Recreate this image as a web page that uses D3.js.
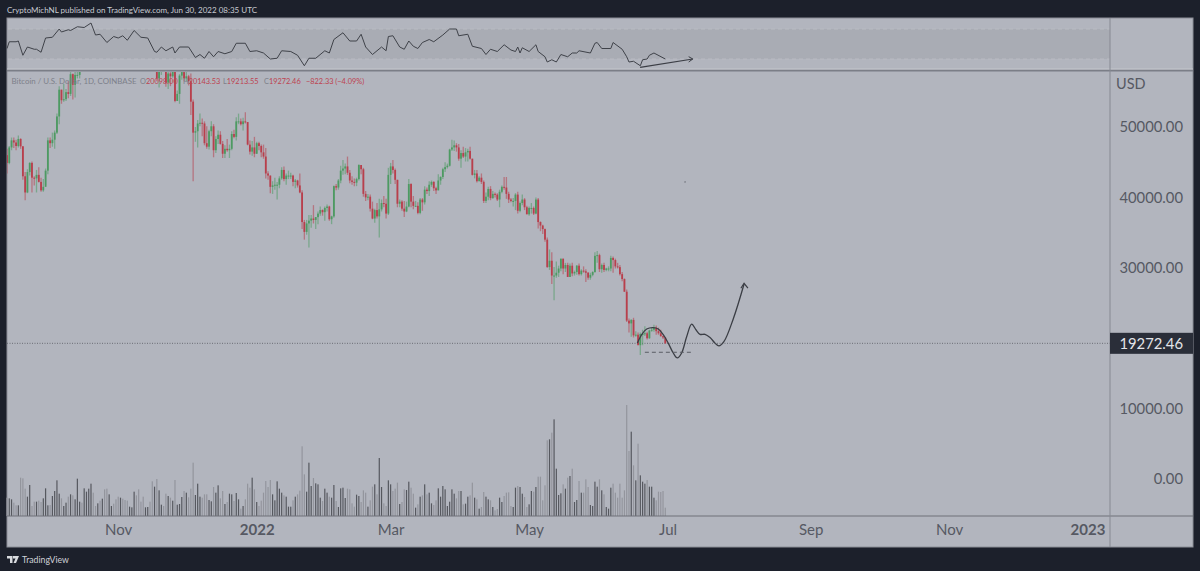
<!DOCTYPE html>
<html>
<head>
<meta charset="utf-8">
<script src="https://cdn.jsdelivr.net/npm/d3@7"></script>
<style>
html, body { margin: 0; padding: 0; background: #1c202b; overflow: hidden; }
text { font-family: Lato, "Open Sans", sans-serif; }
</style>
</head>
<body>
<div id="container_div"></div>
<script>
//Dataset, one entry a day from Sep 13 2021, prices in thousands of USD
var opens = [46.0,44.9,47.1,48.1,47.8,47.3,48.3,47.25,43.0,40.7,43.6,44.9,42.8,42.7,43.2,42.2,41.0,41.5,
  43.8,48.1,47.7,48.2,49.2,51.5,55.3,53.8,53.95,54.95,54.7,57.5,56.0,57.4,57.4,61.7,60.9,61.5,62.0,64.3,66.0,62.2,60.7,61.3,60.9,63.1,60.3,58.5,60.6,62.3,61.9,
  61.3,61.0,63.2,62.9,61.4,61.0,61.5,63.3,67.5,66.9,64.9,64.8,64.1,64.4,65.5,63.6,60.1,60.4,56.9,58.1,59.7,58.7,56.3,57.6,57.2,58.9,53.7,54.7,57.3,57.8,
  56.9,57.2,56.5,53.6,49.2,49.4,50.5,50.6,50.5,47.7,47.2,49.4,50.1,46.7,48.3,48.9,47.6,46.2,46.9,46.7,46.9,49.0,48.6,50.8,50.8,50.4,50.8,50.7,47.5,46.5,47.1,
  46.2,47.7,47.3,46.4,45.8,43.4,43.1,41.5,41.7,41.8,41.8,42.7,43.9,42.6,43.1,43.1,43.1,42.2,42.4,41.7,40.7,36.5,35.1,36.3,36.7,37.0,36.8,37.2,37.7,38.2,37.9,
  38.5,38.7,36.9,37.3,41.6,41.4,42.4,43.8,44.1,44.4,43.5,42.4,42.2,42.1,42.6,44.6,44.0,40.5,40.0,40.1,38.4,37.0,38.2,37.3,38.3,39.2,39.1,37.7,
  43.2,44.4,43.9,42.5,39.1,39.4,38.4,38.0,38.7,41.9,39.4,38.8,38.8,37.8,39.7,39.3,41.1,40.9,41.8,42.2,41.3,41.0,42.4,42.9,44.0,44.3,44.5,46.8,47.1,47.4,47.1,
  45.5,46.3,45.8,46.4,46.6,45.5,43.2,43.4,42.3,42.8,42.2,39.5,40.1,41.2,39.9,40.5,40.4,39.7,40.8,41.5,41.4,40.5,39.7,39.5,39.5,40.4,38.1,39.2,39.7,38.6,
  37.6,38.5,38.5,37.7,39.7,36.5,36.0,35.5,34.0,30.1,31.0,28.9,28.9,29.3,29.9,31.3,29.9,30.4,28.7,30.3,29.2,29.4,30.3,29.1,29.6,29.5,29.3,28.6,29.0,29.4,31.7,
  31.8,29.8,30.4,29.7,29.9,29.9,31.4,31.1,30.2,30.1,29.1,28.4,26.6,22.5,22.1,22.6,20.4,20.5,19.0,20.6,20.6,20.7,20.0,21.1,21.2,21.5,21.0,20.7,20.3,20.1];

var closes = [44.9,47.1,48.1,47.8,47.3,48.3,47.25,43.0,40.7,43.6,44.9,42.8,42.7,43.2,42.2,41.0,41.5,43.8,
  48.1,47.7,48.2,49.2,51.5,55.3,53.8,53.95,54.95,54.7,57.5,56.0,57.4,57.4,61.7,60.9,61.5,62.0,64.3,66.0,62.2,60.7,61.3,60.9,63.1,60.3,58.5,60.6,62.3,61.9,61.3,
  61.0,63.2,62.9,61.4,61.0,61.5,63.3,67.5,66.9,64.9,64.8,64.1,64.4,65.5,63.6,60.1,60.4,56.9,58.1,59.7,58.7,56.3,57.6,57.2,58.9,53.7,54.7,57.3,57.8,56.9,
  57.2,56.5,53.6,49.2,49.4,50.5,50.6,50.5,47.7,47.2,49.4,50.1,46.7,48.3,48.9,47.6,46.2,46.9,46.7,46.9,49.0,48.6,50.8,50.8,50.4,50.8,50.7,47.5,46.5,47.1,46.2,
  47.7,47.3,46.4,45.8,43.4,43.1,41.5,41.7,41.8,41.8,42.7,43.9,42.6,43.1,43.1,43.1,42.2,42.4,41.7,40.7,36.5,35.1,36.3,36.7,37.0,36.8,37.2,37.7,38.2,37.9,38.5,
  38.7,36.9,37.3,41.6,41.4,42.4,43.8,44.1,44.4,43.5,42.4,42.2,42.1,42.6,44.6,44.0,40.5,40.0,40.1,38.4,37.0,38.2,37.3,38.3,39.2,39.1,37.7,43.2,
  44.4,43.9,42.5,39.1,39.4,38.4,38.0,38.7,41.9,39.4,38.8,38.8,37.8,39.7,39.3,41.1,40.9,41.8,42.2,41.3,41.0,42.4,42.9,44.0,44.3,44.5,46.8,47.1,47.4,47.1,45.5,
  46.3,45.8,46.4,46.6,45.5,43.2,43.4,42.3,42.8,42.2,39.5,40.1,41.2,39.9,40.5,40.4,39.7,40.8,41.5,41.4,40.5,39.7,39.5,39.5,40.4,38.1,39.2,39.7,38.6,37.6,
  38.5,38.5,37.7,39.7,36.5,36.0,35.5,34.0,30.1,31.0,28.9,28.9,29.3,29.9,31.3,29.9,30.4,28.7,30.3,29.2,29.4,30.3,29.1,29.6,29.5,29.3,28.6,29.0,29.4,31.7,31.8,
  29.8,30.4,29.7,29.9,29.9,31.4,31.1,30.2,30.1,29.1,28.4,26.6,22.5,22.1,22.6,20.4,20.5,19.0,20.6,20.6,20.7,20.0,21.1,21.2,21.5,21.0,20.7,20.3,20.1,19.27];

var highs = [46.9,47.3,48.5,48.5,48.2,48.8,48.4,47.3,43.6,44.0,45.0,45.1,43.0,43.9,44.3,42.8,42.6,44.1,
  48.5,48.5,49.2,49.5,51.9,55.8,55.3,56.1,55.4,56.5,57.8,57.6,58.0,58.5,62.9,62.4,61.7,62.7,64.5,67.0,66.6,63.7,61.7,61.5,63.7,63.3,61.4,62.4,62.9,62.4,62.4,
  62.4,64.3,64.0,63.1,62.6,61.6,63.3,67.8,68.9,69.0,65.6,65.4,65.0,65.6,66.3,63.4,60.8,60.9,58.4,59.9,60.0,59.3,57.9,57.8,59.4,59.0,55.2,57.5,58.9,59.2,
  59.0,57.4,57.6,53.9,50.0,51.0,51.9,51.2,50.8,50.1,49.6,50.8,50.4,48.7,49.5,49.4,48.0,47.4,48.3,47.5,49.4,49.6,51.4,51.9,51.2,51.3,52.1,50.7,48.1,48.0,48.6,
  47.9,47.9,47.5,47.5,47.0,43.7,43.1,42.3,42.8,42.2,43.0,44.3,44.4,43.4,43.8,43.5,43.2,42.6,42.5,43.4,41.0,36.8,36.8,37.5,37.5,38.9,37.2,38.0,38.7,38.3,38.7,
  39.0,38.8,37.4,41.7,41.9,42.6,44.5,45.3,44.8,45.8,43.9,43.0,42.7,42.8,44.7,44.6,44.2,40.9,40.5,40.4,39.4,38.4,39.2,39.8,39.7,40.2,39.8,44.2,
  44.9,45.3,44.1,42.5,39.7,39.6,39.5,39.4,42.6,42.0,40.2,39.5,39.3,39.9,39.9,41.6,41.4,42.3,42.4,42.3,41.5,43.3,43.0,44.2,45.0,44.8,46.9,48.2,48.1,47.7,47.6,
  46.7,47.2,47.0,46.9,47.2,45.5,43.9,43.9,43.0,43.4,42.4,40.7,41.5,41.6,40.9,40.7,40.6,41.1,41.7,42.9,42.9,40.8,39.9,39.9,40.6,40.8,39.4,40.4,39.9,38.8,
  38.7,39.2,38.7,40.0,39.9,36.6,36.1,35.6,34.3,32.6,32.2,30.1,30.9,30.3,31.3,31.3,30.7,30.7,30.6,30.7,29.6,30.4,30.6,29.8,30.2,29.8,29.4,29.3,29.5,32.2,32.4,
  32.0,30.6,30.7,30.0,30.2,31.7,31.6,31.3,30.7,30.4,29.4,28.5,26.9,22.8,22.7,22.9,21.0,20.8,20.8,21.2,21.7,20.9,21.2,21.5,21.9,21.8,21.5,21.2,20.4,20.14];

var lows = [43.4,44.7,46.7,47.0,46.7,47.1,46.9,42.5,39.6,40.6,43.1,40.7,41.7,40.7,42.1,40.8,40.8,41.7,
  43.3,47.0,47.2,46.9,49.0,50.4,53.3,53.6,53.7,54.1,54.4,53.9,54.2,56.9,56.9,60.0,58.9,59.9,61.3,63.5,62.0,60.0,59.7,59.6,60.7,59.8,58.1,57.9,60.3,60.7,59.9,
  59.5,60.1,60.7,60.7,60.8,60.1,61.4,63.2,66.3,62.8,64.2,62.3,63.7,63.6,63.3,58.6,58.4,56.5,55.6,57.4,58.5,55.7,55.4,55.8,57.0,53.5,53.7,53.3,56.7,56.5,
  56.5,55.9,51.7,42.3,47.9,47.1,50.1,48.7,47.4,46.9,46.8,48.7,45.7,46.3,47.6,47.5,45.6,45.6,46.5,45.6,46.7,48.4,48.1,50.4,50.2,49.5,50.5,47.4,46.1,45.9,45.7,
  46.2,46.7,45.7,45.5,42.7,42.5,40.6,40.5,41.1,39.7,41.3,42.5,42.3,41.8,42.6,42.6,41.6,41.3,41.4,40.6,35.5,34.0,34.7,32.9,35.7,36.3,35.5,36.2,37.4,37.4,36.7,
  38.0,36.7,36.2,37.1,41.0,41.1,42.0,43.2,43.3,43.2,42.0,41.8,41.6,41.6,42.4,43.3,40.1,39.5,39.6,38.0,36.9,36.4,37.0,34.3,38.0,38.6,37.0,37.5,
  41.9,43.4,41.9,38.6,38.6,38.1,37.2,37.9,38.6,38.6,38.3,38.7,37.6,37.6,38.1,39.0,40.5,40.2,41.5,40.9,40.5,41.0,41.8,42.6,43.6,44.1,44.4,46.6,46.6,46.5,45.2,
  44.2,45.6,45.1,45.1,45.4,43.1,42.7,42.1,42.3,41.9,39.2,39.2,39.6,39.6,39.8,40.0,39.5,38.6,40.6,41.1,39.8,39.2,39.3,38.7,38.2,37.7,37.9,38.9,38.2,37.6,
  37.4,37.7,37.5,37.6,35.6,35.2,34.8,33.7,30.0,29.7,27.7,25.4,28.6,28.7,29.5,29.1,29.4,28.7,28.7,28.8,28.9,29.0,28.9,28.9,29.3,28.0,28.3,28.3,28.8,29.3,30.7,
  29.4,29.3,29.4,29.5,29.5,29.5,29.3,29.9,29.9,28.9,28.1,26.6,22.3,20.8,20.2,20.1,20.2,20.2,17.6,19.0,20.3,19.8,19.9,20.9,20.9,20.5,20.5,20.2,19.9,19.21];

var volumes = [55,53,50,40,32,32,115,113,82,58,93,30,43,43,46,42,53,83,32,33,
  60,75,107,67,53,30,40,58,65,62,50,112,43,40,83,73,82,97,70,30,
  38,46,52,80,82,65,30,37,50,58,55,52,48,46,28,26,73,62,80,43,
  58,26,27,43,104,88,111,77,34,30,67,60,55,46,108,34,36,57,75,70,
  56,82,160,63,97,58,55,65,65,48,44,87,70,92,53,75,36,42,67,65,
  45,69,50,22,30,50,97,85,115,80,42,30,46,70,105,87,108,65,47,104,
  82,70,62,58,28,28,47,58,65,76,209,125,73,160,90,114,98,95,55,45,
  82,70,58,55,93,45,27,83,85,54,82,80,38,28,64,60,42,77,70,28,
  47,88,95,65,174,87,38,30,107,95,75,82,100,36,42,80,78,103,85,67,
  25,35,58,62,95,65,70,38,33,47,83,58,90,80,30,43,80,67,53,75,
  75,35,37,58,62,100,55,50,22,27,72,58,50,47,27,17,21,55,42,60,
  70,71,30,27,85,90,87,67,57,27,35,75,73,87,118,118,47,92,227,230,
  250,290,142,63,68,95,82,115,120,142,42,48,105,70,70,110,87,33,30,103,
  88,110,77,65,27,22,85,97,70,55,97,55,77,333,195,253,152,107,217,122,
  103,97,108,88,88,55,47,73,72,75,25];

var rsiDays = [0,1,4,5,7,9,12,13,15,17,20,23,24,27,28,31,34,37,39,41,44,47,49,51,53,56,59,62,65,66,68,70,73,74,76,80,83,85,87,89,91,93,96,99,101,105,107,110,113,116,119,121,125,128,131,133,136,140,142,144,148,151,154,156,158,161,163,165,167,168,170,
  173,175,177,179,181,183,186,188,192,195,198,199,203,205,209,211,213,216,219,222,224,225,226,227,230,233,234,237,238,240,242,244,247,249,251,252,257,259,260,262,266,267,271,273,274,276,279,280,282,283,285,290];
var rsiValues = [44,53,53,54,35,46,43,43,39,58,59,70,66,69,68,73,72,78,62,63,52,60,58,61,55,68,59,58,40,39,46,41,46,38,46,46,32,36,31,40,33,40,37,40,51,51,40,41,38,30,31,41,40,35,21,31,31,41,38,56,65,54,54,63,46,36,41,46,41,60,61,
  46,43,54,47,44,52,56,53,62,70,70,61,63,47,44,36,43,40,49,42,40,46,38,45,40,49,40,33,26,29,26,36,33,38,38,41,38,51,52,44,44,52,43,33,26,27,21,29,30,35,38,30];
var rsiLevels = [70,30];

var priceTicks = [0,10,30,40,50];
var priceLabels = ["0.00","10000.00","30000.00","40000.00","50000.00"];
var lastPrice = 19.27246;

var tickDays = [49,110,169,230,291,354,415,476];
var tickLabels = ["Nov","2022","Mar","May","Jul","Sep","Nov","2023"];

// the hand drawn forecast
var curveDays = [277.7,279.6,281.8,284.7,286.9,289.1,291.3,293.5,295.3,297.2,299.4,301.6,303.5,305.3,307.5,309.7,311.9,313.6,315.8,320,324.7];
var curvePrices = [19.3,20.5,21.3,21.5,21.3,20.5,19.3,17.9,17.2,17.9,20.2,22.0,21.2,20.55,20.55,20.1,19.3,18.9,19.5,22.8,27.7];

var W = 1200, H = 571;
var left = 7, right = 1193, top0 = 18, bottom = 547, axisX = 1110, paneY = 71, timeY = 516;

var x = d3.scaleLinear().domain([0,290]).range([7,665.3]);
var y = d3.scaleLinear().domain([0,50]).range([479,127]);
var yRsi = d3.scaleLinear().domain([30,70]).range([59,29]);
var yVol = d3.scaleLinear().domain([0,333]).range([timeY,405]);

var red = "#b83f4c", green = "#4d9a62";

main();

function main() {
  var svg = d3.select("#container_div").append("svg")
    .attr("width", W).attr("height", H).style("display", "block");

  svg.append("text").attr("x", 7).attr("y", 12.5)
    .attr("font-size", 8).attr("fill", "#c9cbd2")
    .text("CryptoMichNL published on TradingView.com, Jun 30, 2022 08:35 UTC");

  svg.append("rect").attr("x", left).attr("y", top0)
    .attr("width", right - left).attr("height", bottom - top0)
    .attr("fill", "#b2b5be").attr("stroke", "#8b8e97").attr("stroke-width", 1);

  svg.append("clipPath").attr("id", "mainClip").append("rect")
    .attr("x", left).attr("y", paneY + 1).attr("width", axisX - left).attr("height", timeY - paneY);

  drawRsi(svg);
  drawPrice(svg);
  drawVolume(svg);
  drawAxes(svg);
  drawDrawings(svg);
  drawLegend(svg);
  drawLogo(svg);
}

function drawRsi(svg) {
  svg.append("rect").attr("x", left + 1).attr("y", yRsi(rsiLevels[0]))
    .attr("width", axisX - left - 1).attr("height", yRsi(rsiLevels[1]) - yRsi(rsiLevels[0]))
    .attr("fill", "#a9acb4");

  svg.selectAll(".rsiLevel").data(rsiLevels).enter().append("line")
    .attr("class", "rsiLevel")
    .attr("x1", left + 1).attr("x2", axisX)
    .attr("y1", yRsi).attr("y2", yRsi)
    .attr("stroke", "#b9bbc2").attr("stroke-dasharray", "4,3");

  var line = d3.line().x(function(d) { return x(d); })
    .y(function(d, i) { return yRsi(rsiValues[i]); });

  svg.append("path").attr("d", line(rsiDays))
    .attr("fill", "none").attr("stroke", "#3f4249").attr("stroke-width", 1);
}

function drawPrice(svg) {
  var g = svg.append("g").attr("clip-path", "url(#mainClip)");

  // last price line
  g.append("line").attr("x1", left).attr("x2", axisX)
    .attr("y1", y(lastPrice)).attr("y2", y(lastPrice))
    .attr("stroke", "#6a6d75").attr("stroke-dasharray", "1,1.5");

  var bars = g.selectAll(".candle").data(closes).enter().append("g").attr("class", "candle");

  bars.append("line")
    .attr("x1", function(d, i) { return x(i); })
    .attr("x2", function(d, i) { return x(i); })
    .attr("y1", function(d, i) { return y(highs[i]); })
    .attr("y2", function(d, i) { return y(lows[i]); })
    .attr("stroke", function(d, i) { return d >= opens[i] ? green : red; })
    .attr("stroke-opacity", 0.55)
    .attr("stroke-width", 1.3);

  bars.append("rect")
    .attr("x", function(d, i) { return x(i) - 0.9; })
    .attr("width", 1.8)
    .attr("y", function(d, i) { return y(Math.max(d, opens[i])); })
    .attr("height", function(d, i) { return Math.max(1, Math.abs(y(d) - y(opens[i]))); })
    .attr("fill", function(d, i) { return d >= opens[i] ? green : red; });
}

function drawVolume(svg) {
  svg.selectAll(".vol").data(volumes).enter().append("rect")
    .attr("class", "vol")
    .attr("x", function(d, i) { return x(i) - 0.6; })
    .attr("width", 1.2)
    .attr("y", function(d) { return yVol(d); })
    .attr("height", function(d) { return timeY - yVol(d); })
    .attr("fill", function(d, i) { return closes[i] >= opens[i] ? "#56585f" : "#93959d"; });
}

function drawAxes(svg) {
  svg.append("line").attr("x1", left).attr("x2", right).attr("y1", paneY - 0.5).attr("y2", paneY - 0.5)
    .attr("stroke", "#7b7e87").attr("stroke-width", 2);
  svg.append("line").attr("x1", left).attr("x2", right).attr("y1", paneY - 2).attr("y2", paneY - 2)
    .attr("stroke", "#c4c6cc").attr("stroke-width", 1);
  svg.append("line").attr("x1", left).attr("x2", right).attr("y1", timeY).attr("y2", timeY)
    .attr("stroke", "#6e7179").attr("stroke-width", 1);
  svg.append("line").attr("x1", axisX).attr("x2", axisX).attr("y1", top0).attr("y2", bottom)
    .attr("stroke", "#868992").attr("stroke-width", 1);

  var yAxis = d3.axisRight(y).tickValues(priceTicks).tickSize(0)
    .tickFormat(function(d, i) { return priceLabels[i]; });
  var gy = svg.append("g").attr("transform", "translate(" + 1183 + ",0)").call(yAxis);
  gy.select(".domain").remove();
  gy.selectAll("text").attr("x", 0).attr("text-anchor", "end")
    .attr("font-size", 14.8).attr("fill", "#565963")
    .style("font-family", "Lato, sans-serif");

  svg.append("text").attr("x", 1116).attr("y", 89)
    .attr("font-size", 14.5).attr("fill", "#565963").text("USD");

  var xAxis = d3.axisBottom(x).tickValues(tickDays).tickSize(0)
    .tickFormat(function(d, i) { return tickLabels[i]; });
  var gx = svg.append("g").attr("transform", "translate(0," + 521 + ")").call(xAxis);
  gx.select(".domain").remove();
  gx.selectAll("text")
    .attr("font-size", 15).attr("fill", "#565963")
    .style("font-family", "Lato, sans-serif")
    .attr("font-weight", function(d, i) { return /^20/.test(tickLabels[i]) ? 700 : 400; });

  // price tag
  svg.append("rect").attr("x", axisX).attr("y", y(lastPrice) - 10.5)
    .attr("width", right - axisX).attr("height", 21).attr("fill", "#2a2e39");
  svg.append("text").attr("x", 1183).attr("y", y(lastPrice)).attr("dy", "0.35em")
    .attr("text-anchor", "end").attr("font-size", 14.8).attr("fill", "#e4e5e9")
    .text(d3.format(".2f")(lastPrice * 1000));
}

function drawDrawings(svg) {
  var dark = "#3b3e45";
  var curve = d3.line().curve(d3.curveCatmullRom)
    .x(function(d) { return x(d); })
    .y(function(d, i) { return y(curvePrices[i]); });

  svg.append("path").attr("d", curve(curveDays))
    .attr("fill", "none").attr("stroke", dark).attr("stroke-width", 1.3);

  // forecast arrow head
  svg.append("path")
    .attr("d", d3.line()([[x(323.3), y(27.1)], [x(324.7), y(27.8)], [x(326.4), y(27.1)]]))
    .attr("fill", "none").attr("stroke", dark).attr("stroke-width", 1.2);

  // support, dashed
  svg.append("line").attr("x1", x(281)).attr("x2", x(302))
    .attr("y1", y(18)).attr("y2", y(18))
    .attr("stroke", "#5a5d65").attr("stroke-dasharray", "4,3");

  // rsi divergence arrow
  svg.append("line").attr("x1", x(278.9)).attr("x2", x(302.1))
    .attr("y1", yRsi(18.9)).attr("y2", yRsi(30))
    .attr("stroke", dark).attr("stroke-width", 1.2);
  svg.append("path")
    .attr("d", d3.line()([[x(300.3), yRsi(33.1)], [x(302.1), yRsi(30)], [x(300.3), yRsi(26)]]))
    .attr("fill", "none").attr("stroke", dark).attr("stroke-width", 1);

  svg.append("circle").attr("cx", x(298.7)).attr("cy", y(42.2)).attr("r", 0.6).attr("fill", "#4a4d55");
}

function drawLegend(svg) {
  svg.append("text").attr("x", 11.5).attr("y", 84)
    .attr("font-size", 7.9).attr("fill", "#7d808a")
    .text("Bitcoin / U.S. Dollar, 1D, COINBASE");

  var size = 7.4;
  var parts = [["O", "20098.00", 140], ["H", "20143.53", 183], ["L", "19213.55", 223], ["C", "19272.46", 264]];
  parts.forEach(function(p) {
    var t = svg.append("text").attr("x", p[2]).attr("y", 84).attr("font-size", size).attr("fill", "#bd4350");
    t.append("tspan").attr("fill", "#7d808a").text(p[0]);
    t.append("tspan").text(p[1]);
  });
  svg.append("text").attr("x", 306).attr("y", 84).attr("font-size", size).attr("fill", "#bd4350")
    .text("\u2212822.33 (\u22124.09%)");
}

function drawLogo(svg) {
  svg.append("path")
    .attr("d", "M7 556h5.5v7h-2.5v-4.5h-3z M13 556h6l-3 7h-2.5l2-4.5h-2.5z")
    .attr("fill", "#d8dade");
  svg.append("text").attr("x", 22).attr("y", 563).attr("font-size", 8.7)
    .attr("fill", "#d0d2d8").text("TradingView");
}
</script>
</body>
</html>
